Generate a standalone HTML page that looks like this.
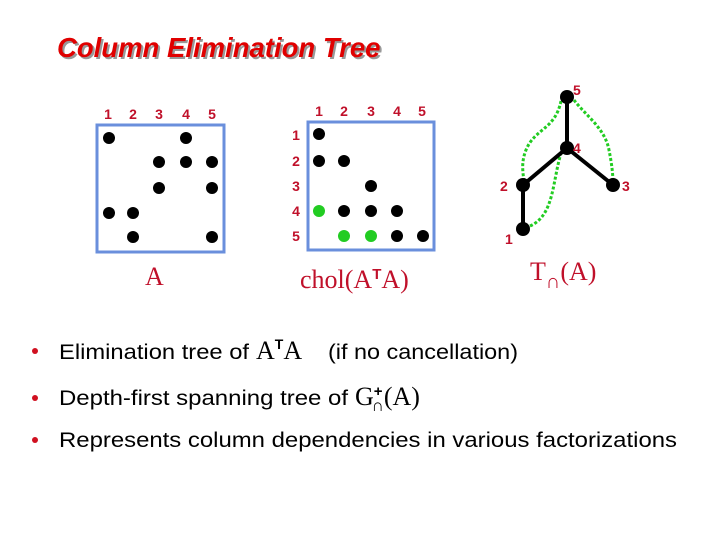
<!DOCTYPE html>
<html><head><style>body{margin:0;background:#fff}svg{display:block}</style></head>
<body>
<svg width="720" height="540" xmlns="http://www.w3.org/2000/svg" font-family="Liberation Sans, sans-serif">
<rect width="720" height="540" fill="#fff"/>
<g font-size="27.5" font-weight="bold" font-style="italic">
<text x="59" y="59" fill="#999">Column Elimination Tree</text>
<text x="57" y="57" fill="#e00000">Column Elimination Tree</text>
</g>
<!-- Matrix A -->
<rect x="97" y="125" width="127" height="127" fill="none" stroke="#6a8fdc" stroke-width="3"/>
<g font-size="14" fill="#c0102a" font-weight="bold" text-anchor="middle">
<text x="108" y="119">1</text><text x="133" y="119">2</text><text x="159" y="119">3</text><text x="186" y="119">4</text><text x="212" y="119">5</text>
<text x="319" y="116">1</text><text x="344" y="116">2</text><text x="371" y="116">3</text><text x="397" y="116">4</text><text x="422" y="116">5</text>
<text x="296" y="140">1</text><text x="296" y="166">2</text><text x="296" y="191">3</text><text x="296" y="216">4</text><text x="296" y="241">5</text>
</g>
<g fill="#000">
<circle cx="109" cy="138" r="6"/><circle cx="186" cy="138" r="6"/>
<circle cx="159" cy="162" r="6"/><circle cx="186" cy="162" r="6"/><circle cx="212" cy="162" r="6"/>
<circle cx="159" cy="188" r="6"/><circle cx="212" cy="188" r="6"/>
<circle cx="109" cy="213" r="6"/><circle cx="133" cy="213" r="6"/>
<circle cx="133" cy="237" r="6"/><circle cx="212" cy="237" r="6"/>
</g>
<!-- chol -->
<rect x="308" y="122" width="126" height="128" fill="none" stroke="#6a8fdc" stroke-width="3"/>
<g fill="#000">
<circle cx="319" cy="134" r="6"/>
<circle cx="319" cy="161" r="6"/><circle cx="344" cy="161" r="6"/>
<circle cx="371" cy="186" r="6"/>
<circle cx="344" cy="211" r="6"/><circle cx="371" cy="211" r="6"/><circle cx="397" cy="211" r="6"/>
<circle cx="397" cy="236" r="6"/><circle cx="423" cy="236" r="6"/>
</g>
<g fill="#22cc22">
<circle cx="319" cy="211" r="6"/><circle cx="344" cy="236" r="6"/><circle cx="371" cy="236" r="6"/>
</g>
<g font-family="Liberation Serif, serif" fill="#c0102a" font-size="26">
<text x="145" y="285">A</text>
<text x="300" y="288">chol(A<tspan font-family="Liberation Sans" font-weight="bold" font-size="15" dy="-9">T</tspan><tspan dy="9">A)</tspan></text>
<text x="530" y="280">T<tspan font-family="Liberation Sans" font-weight="bold" font-size="20" dy="8">∩</tspan><tspan dy="-8">(A)</tspan></text>
</g>
<!-- tree -->
<g stroke="#22cc22" stroke-width="3" stroke-dasharray="3,2" fill="none">
<path d="M561,101 C555,130 535,128 526,150 C520,165 524,175 524,185"/>
<path d="M530,226 C555,215 552,180 562,150"/>
<path d="M574,100 C585,115 605,128 609,150 C612,165 613,175 613,184"/>
</g>
<g stroke="#000" stroke-width="4">
<line x1="567" y1="97" x2="567" y2="148"/><line x1="567" y1="148" x2="523" y2="185"/>
<line x1="567" y1="148" x2="613" y2="185"/><line x1="523" y1="185" x2="523" y2="229"/>
</g>
<g fill="#000">
<circle cx="567" cy="97" r="7"/><circle cx="567" cy="148" r="7"/><circle cx="523" cy="185" r="7"/><circle cx="613" cy="185" r="7"/><circle cx="523" cy="229" r="7"/>
</g>
<g font-size="14" fill="#c0102a" font-weight="bold">
<text x="573" y="95">5</text><text x="573" y="153">4</text><text x="500" y="191">2</text><text x="622" y="191">3</text><text x="505" y="244">1</text>
</g>
<!-- bullets -->
<g fill="#d01020"><circle cx="35" cy="351" r="3"/><circle cx="35" cy="398" r="3"/><circle cx="35" cy="440" r="3"/></g>
<g font-size="21" fill="#000">
<text x="59" y="359" textLength="190" lengthAdjust="spacingAndGlyphs">Elimination tree of</text>
<text x="256" y="359"><tspan font-family="Liberation Serif" font-size="26">A</tspan><tspan font-size="14" font-weight="bold" dy="-10">T</tspan><tspan font-family="Liberation Serif" font-size="26" dy="10">A</tspan></text>
<text x="328" y="359" textLength="190" lengthAdjust="spacingAndGlyphs">(if no cancellation)</text>
<text x="59" y="405" textLength="289" lengthAdjust="spacingAndGlyphs">Depth-first spanning tree of</text>
<text x="355" y="405"><tspan font-family="Liberation Serif" font-size="26">G</tspan><tspan font-size="15" font-weight="bold" dy="-9">+</tspan><tspan font-size="17" font-weight="bold" dx="-11" dy="15">∩</tspan><tspan font-family="Liberation Serif" font-size="26" dy="-6">(A)</tspan></text>
<text x="59" y="447" textLength="618" lengthAdjust="spacingAndGlyphs">Represents column dependencies in various factorizations</text>
</g>
</svg>
</body></html>
